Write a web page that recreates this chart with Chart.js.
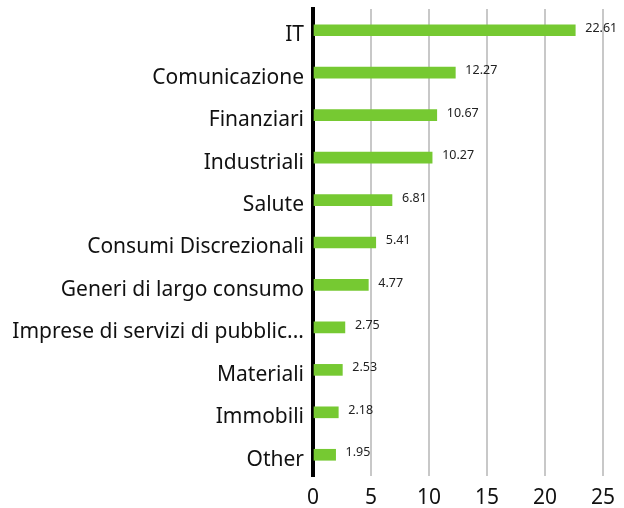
<!DOCTYPE html>
<html>
<head>
<meta charset="utf-8">
<script src="https://cdn.jsdelivr.net/npm/chart.js@4"></script>
<style>
  html, body { margin: 0; padding: 0; background: #fff; }
  #wrap { width: 624px; height: 508px; }
</style>
</head>
<body>
<div id="wrap"><canvas id="mycanvas"></canvas></div>
<script>
var settori = ['IT', 'Comunicazione', 'Finanziari', 'Industriali', 'Salute',
  'Consumi Discrezionali', 'Generi di largo consumo', 'Imprese di servizi di pubblic...',
  'Materiali', 'Immobili', 'Other'];
var pesi = [22.61, 12.27, 10.67, 10.27, 6.81, 5.41, 4.77, 2.75, 2.53, 2.18, 1.95];
var tacche = [0, 5, 10, 15, 20, 25];

var FONT = '"Noto Sans", sans-serif';

// etichette con i valori a destra delle barre
var etichette = {
  id: 'etichette',
  afterDatasetsDraw: function(chart) {
    var ctx = chart.ctx;
    var meta = chart.getDatasetMeta(0);
    ctx.save();
    ctx.font = '12.5px ' + FONT;
    ctx.fillStyle = '#222';
    ctx.textAlign = 'left';
    ctx.textBaseline = 'middle';
    meta.data.forEach(function(bar, i) {
      ctx.fillText(pesi[i].toFixed(2), bar.x + 10, bar.y - 2);
    });
    ctx.restore();
  }
};

var ctx = document.getElementById('mycanvas');
var grafico = new Chart(ctx, {
  type: 'bar',
  data: {
    labels: settori,
    datasets: [{
      data: pesi,
      backgroundColor: '#76c932',
      barThickness: 11
    }]
  },
  options: {
    indexAxis: 'y',
    responsive: true,
    maintainAspectRatio: false,
    animation: false,
    layout: { padding: { top: 9, right: 21, left: 0, bottom: 0 } },
    plugins: { legend: { display: false }, tooltip: { enabled: false } },
    scales: {
      x: {
        min: 0,
        max: 25,
        afterBuildTicks: function(scale) {
          scale.ticks = tacche.map(function(v) { return { value: v }; });
        },
        afterFit: function(scale) { scale.height = 32; },
        grid: {
          color: function(c) { return c.tick && c.tick.value === 0 ? 'rgba(0,0,0,0)' : '#c8c8c8'; },
          lineWidth: 2,
          drawTicks: false
        },
        border: { display: false },
        ticks: {
          color: '#111',
          font: { family: FONT, size: 21 },
          padding: 9,
          maxRotation: 0
        }
      },
      y: {
        afterFit: function(scale) {
          scale.width = 313;
          scale.paddingTop = 0;
          scale.paddingBottom = 0;
        },
        grid: { display: false, drawTicks: false },
        border: { display: true, color: '#000', width: 4 },
        ticks: {
          color: '#111',
          font: { family: FONT, size: 21 },
          padding: 9,
          labelOffset: 5,
          autoSkip: false
        }
      }
    }
  },
  plugins: [etichette]
});
</script>
</body>
</html>
